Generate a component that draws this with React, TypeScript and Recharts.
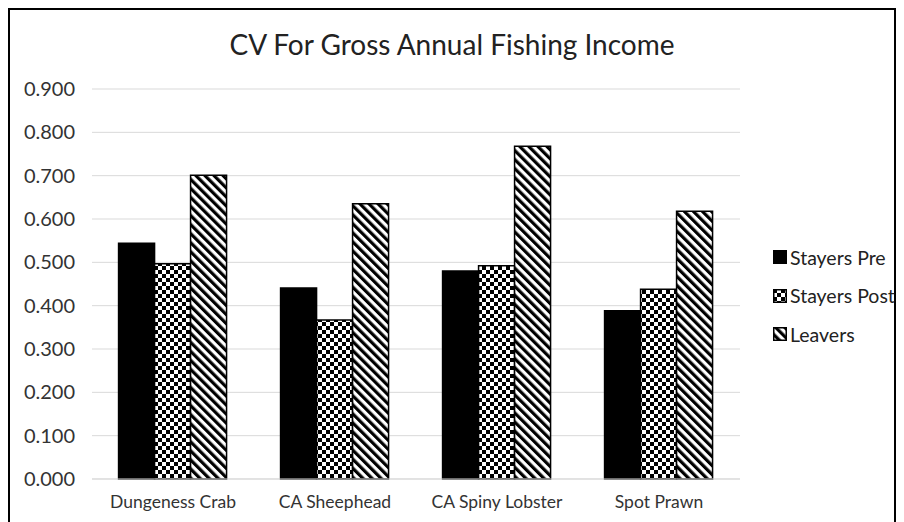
import React from 'react';
import { BarChart, Bar, XAxis, YAxis, CartesianGrid, Legend } from 'recharts';

const categories = ['Dungeness Crab', 'CA Sheephead', 'CA Spiny Lobster', 'Spot Prawn'];
const stayersPre = [0.544, 0.441, 0.48, 0.388];
const stayersPost = [0.497, 0.367, 0.492, 0.438];
const leavers = [0.701, 0.635, 0.768, 0.618];
const seriesNames = ['Stayers Pre', 'Stayers Post', 'Leavers'];
const yTicks = [0, 0.1, 0.2, 0.3, 0.4, 0.5, 0.6, 0.7, 0.8, 0.9];
const title = 'CV For Gross Annual Fishing Income';

const data = categories.map((name, i) => ({
  name,
  pre: stayersPre[i],
  post: stayersPost[i],
  leavers: leavers[i],
}));

const FONT = 'Lato, "Open Sans", sans-serif';
const TEXT = '#333';

const PatternDefs = ({ prefix }: { prefix: string }) => (
  <defs>
    <pattern id={`${prefix}checker`} patternUnits="userSpaceOnUse" width={8} height={8}>
      <rect x={0} y={0} width={8} height={8} fill="#fff" />
      <rect x={0} y={0} width={4} height={4} fill="#000" />
      <rect x={4} y={4} width={4} height={4} fill="#000" />
    </pattern>
    <pattern
      id={`${prefix}stripes`}
      patternUnits="userSpaceOnUse"
      width={6.4}
      height={12}
      patternTransform="rotate(-45)"
    >
      <rect x={0} y={0} width={6.4} height={12} fill="#fff" />
      <rect x={0} y={0} width={3.2} height={12} fill="#000" />
    </pattern>
  </defs>
);

const legendFills = ['#000', 'url(#lg-checker)', 'url(#lg-stripes)'];

const renderLegend = () => (
  <div style={{ fontFamily: FONT, fontSize: 19.5, color: '#222' }}>
    <svg width={0} height={0} style={{ position: 'absolute' }}>
      <PatternDefs prefix="lg-" />
    </svg>
    {seriesNames.map((n, i) => (
      <div key={n} style={{ display: 'flex', alignItems: 'center', height: 38.5 }}>
        <svg width={14} height={14} style={{ marginRight: 3 }}>
          <rect x={0.75} y={0.75} width={12.5} height={12.5} fill={legendFills[i]} stroke="#000" strokeWidth={1.5} />
        </svg>
        <span>{n}</span>
      </div>
    ))}
  </div>
);

export default function App() {
  return (
    <div
      style={{
        position: 'relative',
        width: 884,
        height: 530,
        border: '2px solid #000',
        background: '#fff',
      }}
    >
      <div
        style={{
          position: 'absolute',
          left: 0,
          top: 19,
          width: 884,
          textAlign: 'center',
          fontFamily: FONT,
          fontSize: 28,
          lineHeight: '30px',
          color: '#222',
          zIndex: 2,
        }}
      >
        {title}
      </div>
      <BarChart
        width={884}
        height={530}
        data={data}
        margin={{ top: 79, right: 154, bottom: 31, left: 12 }}
        barCategoryGap="16.4%"
        barGap={0}
      >
        <PatternDefs prefix="" />
        <CartesianGrid vertical={false} stroke="#d9d9d9" strokeWidth={1} />
        <XAxis
          dataKey="name"
          height={30}
          axisLine={{ stroke: '#d9d9d9' }}
          tickLine={false}
          tickSize={0}
          tickMargin={17}
          tick={{ fill: TEXT, fontSize: 17.5, fontFamily: FONT }}
          interval={0}
        />
        <YAxis
          width={70}
          domain={[0, 0.9]}
          ticks={yTicks}
          axisLine={false}
          tickLine={false}
          tickSize={0}
          tickMargin={17}
          tickFormatter={(v: number) => v.toFixed(3)}
          tick={{ fill: TEXT, fontSize: 20, fontFamily: FONT }}
        />
        <Legend
          layout="vertical"
          align="center"
          verticalAlign="middle"
          content={renderLegend}
          wrapperStyle={{ left: 763, top: 228, width: 125 }}
        />
        <Bar dataKey="pre" name={seriesNames[0]} fill="#000" stroke="#000" strokeWidth={1.5} isAnimationActive={false} />
        <Bar dataKey="post" name={seriesNames[1]} fill="url(#checker)" stroke="#000" strokeWidth={1.5} isAnimationActive={false} />
        <Bar dataKey="leavers" name={seriesNames[2]} fill="url(#stripes)" stroke="#000" strokeWidth={1.5} isAnimationActive={false} />
      </BarChart>
    </div>
  );
}
